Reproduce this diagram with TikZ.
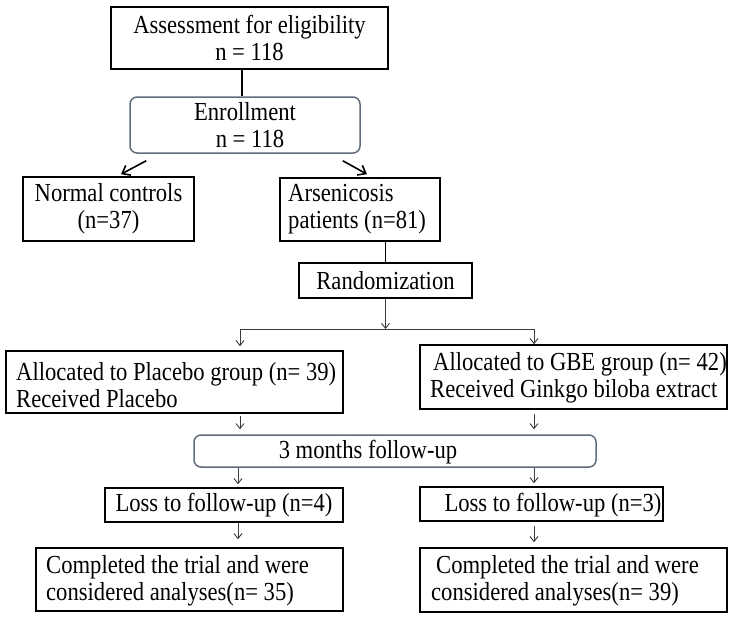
\documentclass[tikz,border=0pt]{standalone}
\usepackage{fontspec}
\setmainfont{Liberation Serif}[FakeStretch=0.87]
\usetikzlibrary{arrows.meta,calc}
\definecolor{rcol}{RGB}{96,108,124}
\definecolor{acol}{RGB}{60,60,60}
\tikzset{
  bx/.style 2 args={draw=black, line width=1.6pt, minimum width=#1, minimum height=#2, inner sep=0pt, align=center},
  rbx/.style 2 args={draw=rcol, line width=1.5pt, rounded corners=7pt, minimum width=#1, minimum height=#2, inner sep=0pt, align=center},
  txt/.style={inner sep=0pt, align=left, anchor=west},
  ctxt/.style={inner sep=0pt, align=center},
  thickarr/.style={line width=1.6pt, -{Straight Barb[length=7pt,width=11pt]}},
  thinarr/.style={draw=acol, line width=0.9pt, -{Straight Barb[length=5pt,width=8pt]}},
  thinline/.style={draw=acol, line width=0.9pt},
  link/.style={line width=1.4pt},
}
\begin{document}
\begin{tikzpicture}[x=1pt,y=-1pt,font=\fontsize{26}{27}\selectfont]
\useasboundingbox[fill=white] (0,0) rectangle (736,619);
% boxes
\node[bx={277pt}{62pt}] (assess) at (249.5,38) {Assessment for eligibility\\n = 118};
\node[rbx={230pt}{56pt}] (enroll) at (245,125) {Enrollment\\\hspace*{10pt}n = 118};
\node[bx={171pt}{64pt}] (normal) at (108.5,209) {Normal controls\\(n=37)};
\node[bx={160pt}{63pt}] (arsen) at (360,209.5) {};
\node[txt] (arsent) at (288,209.5) {Arsenicosis\\patients (n=81)};
\node[bx={173pt}{35pt}] (random) at (385.5,280.5) {Randomization};
\node[bx={337pt}{62pt}] (placebo) at (174.5,382) {};
\node[txt] (placebot) at (16,385) {Allocated to Placebo group (n= 39)\\Received Placebo};
\node[bx={307pt}{64pt}] (gbe) at (573.5,377) {};
\node[txt] (gbet) at (430,378) {\hspace*{3pt}Allocated to GBE group (n= 42)\\Received Ginkgo biloba extract};
\node[rbx={402pt}{32pt}] (followup) at (395,451) {};
\node[ctxt] (followupt) at (368,452) {3 months follow-up};
\node[bx={238pt}{34pt}] (loss1) at (224,505) {Loss to follow-up (n=4)};
\node[bx={243pt}{34pt}] (loss2) at (541.5,504) {};
\node[ctxt] (loss2t) at (553,505) {Loss to follow-up (n=3)};
\node[bx={307pt}{63pt}] (comp1) at (189.5,579.5) {};
\node[txt] (comp1t) at (46,581) {Completed the trial and were\\considered analyses(n= 35)};
\node[bx={307pt}{64pt}] (comp2) at (573.5,580) {};
\node[txt] (comp2t) at (431,581) {\hspace*{5pt}Completed the trial and were\\considered analyses(n= 39)};
% connectors
\coordinate (c1) at ($(assess.south)+(-7.5,0)$);
\draw[link] (c1) -- (c1 |- enroll.north);
\draw[thickarr] ($(enroll.south west)+(17,7)$) -- ($(normal.north)+(12.5,-2)$);
\draw[thickarr] ($(enroll.south east)+(-18,7)$) -- ($(arsen.north)+(7,-3)$);
\draw[link] (arsen.south -| random.north) -- (random.north);
\coordinate (split) at (385.5,329);
\coordinate (sl) at (240,329);
\coordinate (sr) at (534,329);
\coordinate (bl) at (238,500);
\draw[thinarr] (random.south) -- (split);
\draw[thinline] (sl) -- (sr);
\draw[thinarr, shorten >=4pt] (sl) -- (sl |- placebo.north);
\draw[thinarr] (sr) -- (sr |- gbe.north);
\draw[thinarr, shorten <=2pt, shorten >=5pt] (sl |- placebo.south) -- (sl |- followup.north);
\draw[thinarr, shorten <=4pt, shorten >=5pt] (sr |- gbe.south) -- (sr |- followup.north);
\draw[thinarr, shorten >=3pt] (bl |- followup.south) -- (bl |- loss1.north);
\draw[thinarr, shorten >=3pt] (sr |- followup.south) -- (sr |- loss2.north);
\draw[thinarr, shorten >=8pt] (bl |- loss1.south) -- (bl |- comp1.north);
\draw[thinarr, shorten <=4pt, shorten >=5pt] (sr |- loss2.south) -- (sr |- comp2.north);
\end{tikzpicture}
\end{document}
